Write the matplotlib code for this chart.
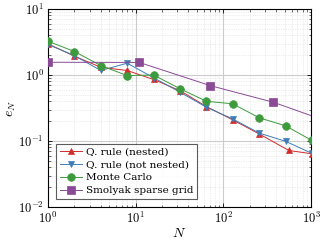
import matplotlib
matplotlib.use("Agg")
import matplotlib.pyplot as plt
from matplotlib.ticker import LogLocator, NullFormatter, FuncFormatter
import numpy as np

plt.rcParams['mathtext.fontset'] = 'cm'
plt.rcParams['font.family'] = ['DejaVu Serif']

# Data
n_nested = [1, 2, 4, 8, 16, 32, 64, 128, 256, 560, 1024]
e_nested = [2.96, 1.93, 1.31, 1.17, 0.855, 0.58, 0.333, 0.209, 0.128, 0.0718, 0.064]

n_notnested = [1, 2, 4, 8, 16, 32, 64, 128, 256, 512, 1024]
e_notnested = [2.9, 1.97, 1.17, 1.51, 0.91, 0.55, 0.325, 0.216, 0.132, 0.099, 0.065]

n_mc = [1, 2, 4, 8, 16, 32, 64, 128, 256, 512, 1024]
e_mc = [3.25, 2.27, 1.39, 0.98, 1.0, 0.62, 0.40, 0.366, 0.225, 0.17, 0.102]

n_smolyak = [1, 11, 71, 371, 1800]
e_smolyak = [1.56, 1.55, 0.69, 0.387, 0.184]

labels = ["Q. rule (nested)", "Q. rule (not nested)", "Monte Carlo", "Smolyak sparse grid"]
colors = ["#d42a2a", "#3d7db8", "#3d9a3d", "#8a4a96"]
markers = ["^", "v", "o", "s"]
msizes = [4.5, 4.5, 5.5, 5.5]

fig = plt.figure(figsize=(3.24, 2.4), dpi=100)
ax = fig.add_axes([48/324, 1 - 207/240, 263/324, 198/240])

series = [(n_nested, e_nested), (n_notnested, e_notnested), (n_mc, e_mc), (n_smolyak, e_smolyak)]
for (x, y), lab, c, m, ms in zip(series, labels, colors, markers, msizes):
    ax.plot(x, y, color=c, marker=m, markersize=ms, linewidth=0.7, label=lab,
            markeredgewidth=0.5, clip_on=True, zorder=3)

ax.set_xscale('log')
ax.set_yscale('log')
ax.set_xlim(1, 1000)
ax.set_ylim(0.01, 10)

fmt = FuncFormatter(lambda v, p: r'$10^{%d}$' % int(round(np.log10(v))))
ax.xaxis.set_major_locator(LogLocator(base=10, numticks=10))
ax.yaxis.set_major_locator(LogLocator(base=10, numticks=10))
ax.xaxis.set_major_formatter(fmt)
ax.yaxis.set_major_formatter(fmt)
ax.xaxis.set_minor_locator(LogLocator(base=10, subs=range(2, 10), numticks=20))
ax.yaxis.set_minor_locator(LogLocator(base=10, subs=range(2, 10), numticks=20))
ax.xaxis.set_minor_formatter(NullFormatter())
ax.yaxis.set_minor_formatter(NullFormatter())

ax.grid(True, which='major', color='#cccccc', linewidth=0.8, linestyle='-', zorder=0)
ax.grid(True, which='minor', color='#dddddd', linewidth=0.5, linestyle=(0, (1, 1.5)), zorder=0)
ax.set_axisbelow(True)

ax.tick_params(which='both', direction='in', top=True, right=True, labelsize=9)
ax.tick_params(which='major', length=3, width=0.6, pad=3)
ax.tick_params(which='minor', length=1.8, width=0.4)
for s in ax.spines.values():
    s.set_linewidth(0.8)

ax.set_xlabel(r'$N$', fontsize=10, labelpad=0)
ax.set_ylabel(r'$e_N$', fontsize=10, labelpad=0)

leg = ax.legend(loc='lower left', fontsize=7.5, frameon=True, fancybox=False,
                edgecolor='#333333', handlelength=2.2, borderpad=0.35, labelspacing=0.35,
                handletextpad=0.3, borderaxespad=0, bbox_to_anchor=(0.03, 0.04))
leg.get_frame().set_linewidth(0.8)

fig.savefig('out.png', dpi=100)
